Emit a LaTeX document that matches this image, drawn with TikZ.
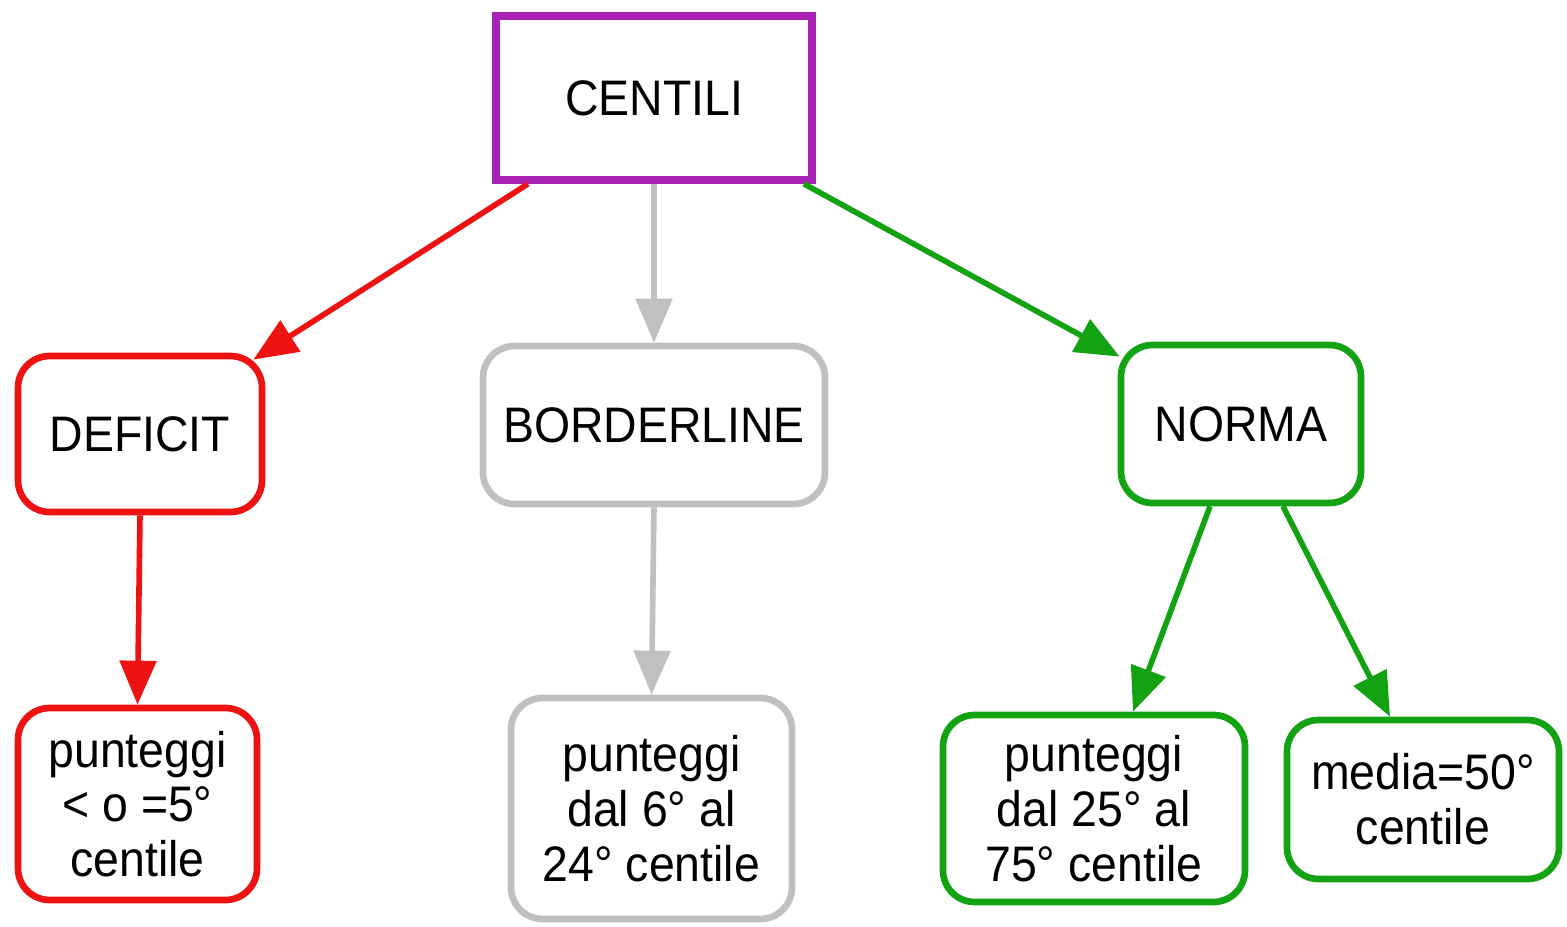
\documentclass[tikz,border=0pt]{standalone}
\usepackage{fontspec}
\setmainfont{Liberation Sans}[FakeStretch=0.93]
\usetikzlibrary{arrows.meta,calc}
\definecolor{cred}{RGB}{238,18,18}
\definecolor{cgray}{RGB}{192,192,192}
\definecolor{cgreen}{RGB}{18,162,18}
\definecolor{cpurple}{RGB}{170,34,180}
\tikzset{
  txt/.style={font=\fontsize{14.2}{15.6}\selectfont, align=center, inner sep=2pt},
  topbox/.style={txt, draw=cpurple, line width=2.2pt, rectangle},
  rbox/.style={txt, draw=#1, line width=1.9pt, rectangle, rounded corners=9pt},
  conn/.style={draw=#1, line width=1.6pt, -{Triangle[length=0.44cm,width=0.36cm]}}
}
\begin{document}
\begin{tikzpicture}
\useasboundingbox (0,0) rectangle (15.67,9.26);
\node[topbox, minimum width=3.16cm, minimum height=1.64cm] (centili) at (6.54,8.28) {CENTILI};
\node[rbox=cred, minimum width=2.44cm, minimum height=1.56cm] (deficit) at (1.40,4.92) {DEFICIT};
\node[rbox=cgray, minimum width=3.42cm, minimum height=1.58cm] (border) at (6.54,5.01) {BORDERLINE};
\node[rbox=cgreen, minimum width=2.40cm, minimum height=1.58cm] (norma) at (12.41,5.02) {NORMA};
\node[rbox=cred, minimum width=2.39cm, minimum height=1.92cm] (c1) at (1.375,1.22) {punteggi\\< o =5°\\centile};
\node[rbox=cgray, minimum width=2.81cm, minimum height=2.21cm] (c2) at (6.515,1.175) {punteggi\\dal 6° al\\24° centile};
\node[rbox=cgreen, minimum width=3.02cm, minimum height=1.87cm] (c3) at (10.94,1.175) {punteggi\\dal 25° al\\75° centile};
\node[rbox=cgreen, minimum width=2.72cm, minimum height=1.59cm] (c4) at (14.23,1.265) {media=50°\\centile};
\draw[conn=cred] ($(centili.south)+(-1.26,0)$) -- ($(deficit.north east)+(-0.12,-0.07)$);
\draw[conn=cgray] (centili.south) -- (border.north);
\draw[conn=cgreen] ($(centili.south east)+(-0.12,0)$) -- ($(norma.north west)+(0.02,-0.15)$);
\draw[conn=cred] (deficit.south) -- (c1.north);
\draw[conn=cgray] (border.south) -- (c2.north);
\draw[conn=cgreen] ($(norma.south)+(-0.31,0)$) -- ($(c3.north)+(0.39,0)$);
\draw[conn=cgreen] ($(norma.south)+(0.42,0)$) -- ($(c4.north)+(-0.33,0)$);
\end{tikzpicture}
\end{document}
